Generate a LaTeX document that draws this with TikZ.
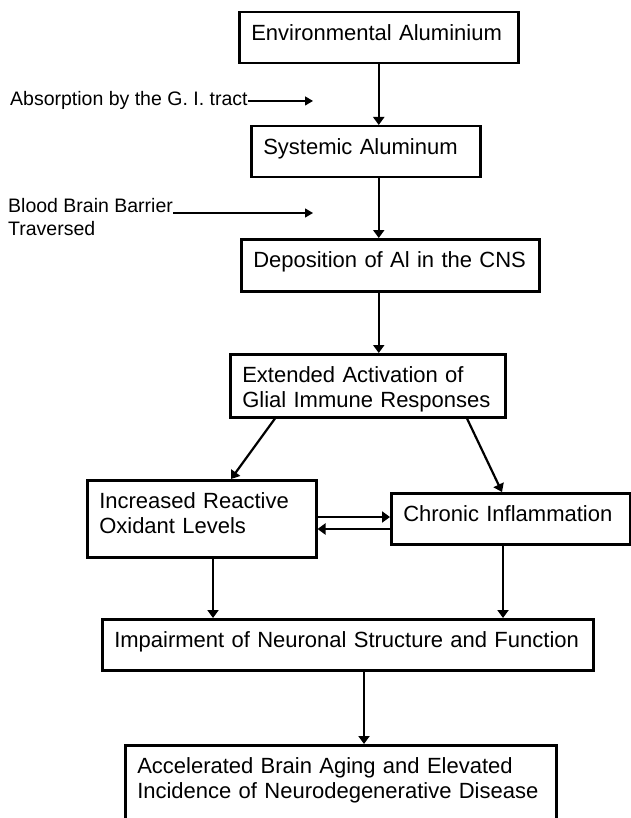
\documentclass[tikz,border=0pt]{standalone}
\usepackage{fontspec}
\setmainfont{Liberation Sans}
\usepackage{tikz}
\usetikzlibrary{arrows.meta}

\begin{document}
\begin{tikzpicture}
     [
     x=1pt, y=-1pt,
     stagebox/.style={rectangle, draw=black, line width=2.5pt, fill=white, anchor=north west, align=left,
                      inner xsep=12pt, inner ysep=12.5pt, text height=15.75pt, text depth=10.25pt,
                      font=\fontsize{22}{25}\selectfont},
     sidetext/.style={inner sep=0pt, align=left, font=\fontsize{19.5}{23}\selectfont},
     flow/.style={line width=2.2pt, -{Triangle[length=8pt,width=11pt]}},
     sideflow/.style={line width=1.3pt, -{Triangle[length=8pt,width=9pt]}},
     ]
 \useasboundingbox (0,0) rectangle (630,818);
 \node at (238,11) [stagebox, text width=255pt] (env) {Environmental Aluminium};
 \node at (250,125) [stagebox, text width=205pt] (sys) {Systemic Aluminum};
 \node at (240,238) [stagebox, text width=274pt, text depth=11.25pt] (dep) {Deposition of Al in the CNS};
 \node at (229,353) [stagebox, text width=251pt, text depth=22.25pt] (ext) {Extended Activation of\\Glial Immune Responses};
 \node at (86,479) [stagebox, text width=205pt, text depth=36.25pt] (react) {Increased Reactive\\Oxidant Levels};
 \node at (390,492) [stagebox, text width=215pt] (chron) {Chronic Inflammation};
 \node at (101,618) [stagebox, text width=467pt] (impair) {Impairment of Neuronal Structure and Function};
 \node at (124,744) [stagebox, text width=407pt, text depth=49.25pt] (accel) {Accelerated Brain Aging and Elevated\\Incidence of Neurodegenerative Disease};

 \node at (10,106) [sidetext, anchor=base west] (absorb) {Absorption by the G. I. tract};
 \node at (8,198.5) [sidetext, anchor=north west] (bbb) {Blood Brain Barrier\\Traversed};
 \coordinate (tipA) at (313,101);
 \coordinate (tipB) at (313,213);
 \draw[sideflow] (absorb.east) -- (absorb.east -| tipA);
 \draw[sideflow] (tipB -| bbb.east) -- (tipB);

 \draw[flow] (env.south) -- (sys.north -| env.south);
 \draw[flow] (sys.south -| env.south) -- (dep.north -| env.south);
 \draw[flow] (dep.south -| env.south) -- (ext.north -| env.south);
 \draw[flow] ([xshift=46pt]ext.south west) -- ([xshift=145pt]react.north west);
 \draw[flow] ([xshift=238pt]ext.south west) -- ([xshift=112pt]chron.north west);

 \coordinate (ru) at ([yshift=-38pt]react.north east);
 \coordinate (rl) at ([yshift=-50pt]react.north east);
 \draw[flow] (ru) -- (ru -| chron.west);
 \draw[flow] (rl -| chron.west) -- (rl);

 \coordinate (rd) at ([xshift=127pt]react.south west);
 \coordinate (cd) at ([xshift=113pt]chron.south west);
 \coordinate (id) at ([xshift=263pt]impair.south west);
 \draw[flow] (rd) -- (rd |- impair.north);
 \draw[flow] (cd) -- (cd |- impair.north);
 \draw[flow] (id) -- (id |- accel.north);
 \end{tikzpicture}
\end{document}
